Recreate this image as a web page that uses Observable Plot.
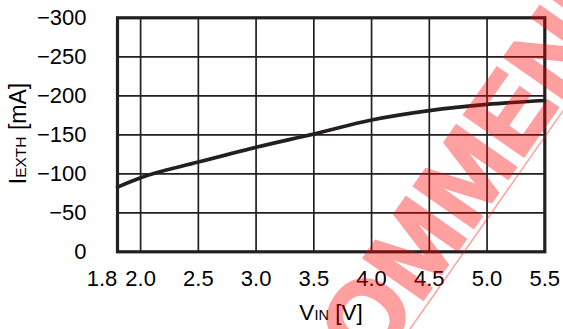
<!DOCTYPE html>
<html>
<head>
<meta charset="utf-8">
<script src="https://cdn.jsdelivr.net/npm/d3@7"></script>
<script src="https://cdn.jsdelivr.net/npm/@observablehq/plot@0.6"></script>
<style>
  html, body { margin: 0; padding: 0; background: #fff; }
  #wrap { position: relative; width: 563px; height: 329px; overflow: hidden; }
  #wm { position: absolute; left: 0; top: 0; pointer-events: none; }
</style>
</head>
<body>
<div id="wrap"></div>
<script>
// Data
const vin = [1.8, 2.0, 2.5, 3.0, 3.5, 4.0, 4.5, 5.0, 5.5];
const iexth = [-83, -95, -115, -134, -151, -169, -181, -189, -194];
const xTicks = [2.0, 2.5, 3.0, 3.5, 4.0, 4.5, 5.0, 5.5];
const xFirstTick = [1.8];
const yTicks = [0, -50, -100, -150, -200, -250, -300];
const xGrid = [2.0, 2.5, 3.0, 3.5, 4.0, 4.5, 5.0];
const yGrid = [-50, -100, -150, -200, -250];
const watermarkText = "NOT RECOMMENDED FOR NEW DESIGNS";

const data = vin.map((v, i) => ({v, i: iexth[i]}));
const ink = "#231f20";
const font = "'Liberation Sans', Arial, sans-serif";
const minus = d => d === 0 ? "0" : "\u2212" + Math.abs(d);

const chart = Plot.plot({
  width: 563,
  height: 329,
  marginLeft: 117,
  marginRight: 18.7,
  marginTop: 17.3,
  marginBottom: 77.7,
  x: {domain: [1.8, 5.5]},
  y: {domain: [0, -300]},
  style: {fontFamily: font, fontSize: "22px", color: ink, background: "white"},
  marks: [
    Plot.gridX(xGrid, {stroke: ink, strokeWidth: 1.7, strokeOpacity: 1}),
    Plot.gridY(yGrid, {stroke: ink, strokeWidth: 1.7, strokeOpacity: 1}),
    Plot.line(data, {x: "v", y: "i", curve: "monotone-x", stroke: ink, strokeWidth: 3.6}),
    Plot.frame({stroke: ink, strokeWidth: 3.2}),
    Plot.axisY(yTicks, {tickSize: 0, tickPadding: 31, label: null, tickFormat: minus, fill: "black"}),
    Plot.axisX(xTicks, {tickSize: 0, tickPadding: 19, label: null, tickFormat: d => d.toFixed(1), fill: "black"}),
    Plot.axisX(xFirstTick, {tickSize: 0, tickPadding: 19, label: null, tickFormat: d => d.toFixed(1), dx: -15.5, fill: "black"})
  ]
});

const wrap = document.getElementById("wrap");
wrap.appendChild(chart);

const svg = d3.select(chart);
// x axis label: V_IN [V]
const xl = svg.append("text")
  .attr("x", 331).attr("y", 320)
  .attr("text-anchor", "middle")
  .attr("font-family", font).attr("font-size", 22.5).attr("fill", "black");
xl.append("tspan").text("V");
xl.append("tspan").attr("font-size", 14.5).text("IN");
xl.append("tspan").text(" [V]");

// y axis label: I_EXTH [mA]
const yl = svg.append("text")
  .attr("transform", "translate(26,133.5) rotate(-90)")
  .attr("text-anchor", "middle")
  .attr("font-family", font).attr("font-size", 23).attr("fill", "black");
yl.append("tspan").text("I");
yl.append("tspan").attr("font-size", 15.5).text("EXTH");
yl.append("tspan").text(" [mA]");

// Watermark overlay
const wm = d3.select(wrap).append("svg")
  .attr("id", "wm").attr("width", 563).attr("height", 329);
const g = wm.append("g").attr("opacity", 0.37);
g.append("text")
  .attr("transform", "translate(101.5,758.9) rotate(-55)")
  .attr("font-family", font).attr("font-weight", "bold").attr("font-size", 105)
  .attr("fill", "red").attr("stroke", "red").attr("stroke-width", 3).attr("stroke-linejoin", "miter")
  .text(watermarkText);
g.append("line")
  .attr("x1", 352.6).attr("y1", 410.9).attr("x2", 640).attr("y2", 0.9)
  .attr("stroke", "red").attr("stroke-width", 1.5);
</script>
</body>
</html>
